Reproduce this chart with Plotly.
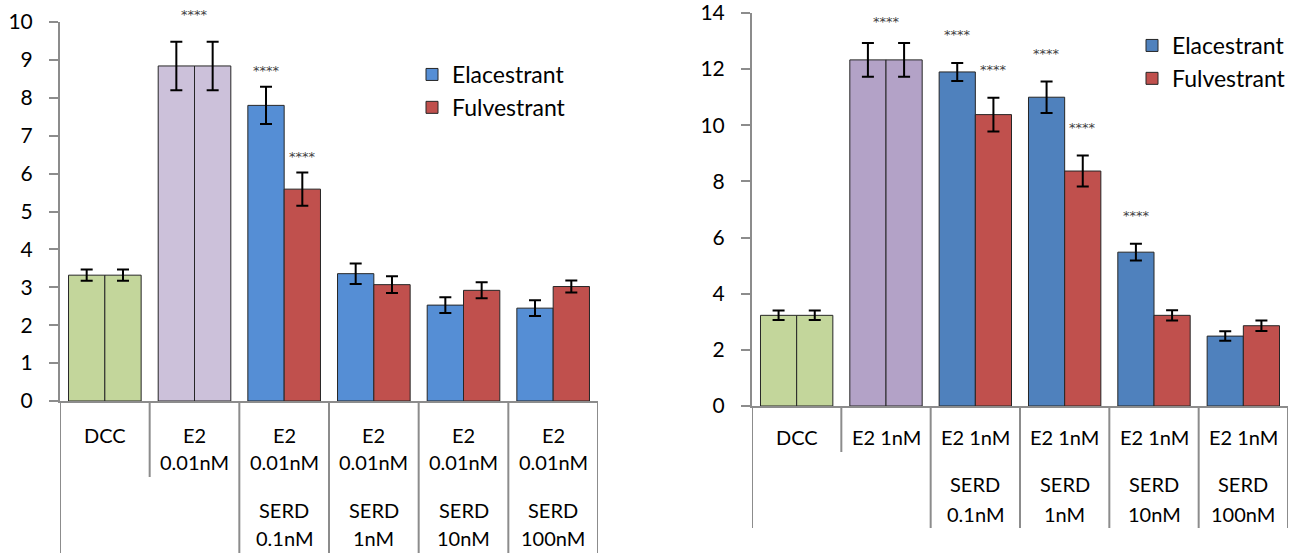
import plotly.graph_objects as go

W, H = 1309, 553
FONT = "Lato"

series_names = ["Elacestrant", "Fulvestrant"]

# ---- left panel (E2 0.01nM) ----
left_control_values = [3.32, 8.84]
left_control_errors = [0.15, 0.64]
left_ela_values = [7.80, 3.36, 2.53, 2.45]
left_ela_errors = [0.49, 0.27, 0.21, 0.21]
left_ful_values = [5.59, 3.07, 2.92, 3.02]
left_ful_errors = [0.44, 0.22, 0.21, 0.16]
left_label_rows = [
    ["DCC", "E2", "E2", "E2", "E2", "E2"],
    ["", "0.01nM", "0.01nM", "0.01nM", "0.01nM", "0.01nM"],
    ["", "", "SERD", "SERD", "SERD", "SERD"],
    ["", "", "0.1nM", "1nM", "10nM", "100nM"],
]
left_stars = [(1, "both"), (2, "E"), (2, "F")]
left_yticks = list(range(0, 11, 1))

# ---- right panel (E2 1nM) ----
right_control_values = [3.23, 12.33]
right_control_errors = [0.17, 0.60]
right_ela_values = [11.90, 11.00, 5.48, 2.49]
right_ela_errors = [0.32, 0.56, 0.30, 0.17]
right_ful_values = [10.38, 8.37, 3.23, 2.86]
right_ful_errors = [0.60, 0.55, 0.18, 0.19]
right_label_rows = [
    ["DCC", "E2 1nM", "E2 1nM", "E2 1nM", "E2 1nM", "E2 1nM"],
    ["", "", "SERD", "SERD", "SERD", "SERD"],
    ["", "", "0.1nM", "1nM", "10nM", "100nM"],
]
right_stars = [(1, "both"), (2, "E"), (2, "F"), (3, "E"), (3, "F"), (4, "E")]
right_yticks = list(range(0, 15, 2))

# styles
GREEN, LAV_L, LAV_R = "#C3D69B", "#CCC1DA", "#B3A2C7"
BLUE_L, BLUE_R, RED = "#558ED5", "#4F81BD", "#C0504D"
AXIS_C = "#8C8C8C"

fig = go.Figure()


def err(a):
    return dict(type="data", array=a, visible=True, color="black", thickness=2, width=6)


def add_panel(xa, ya, legend, cvals, cerrs, evals, eerrs, fvals, ferrs, lav, blue):
    cx = list(range(len(cvals)))
    sx = list(range(len(cvals), len(cvals) + len(evals)))
    line = dict(color="#262626", width=1)
    for og in ["E", "F"]:
        fig.add_trace(go.Bar(x=cx, y=cvals, error_y=err(cerrs), offsetgroup=og,
                             marker=dict(color=[GREEN, lav], line=line),
                             showlegend=False, xaxis=xa, yaxis=ya, hoverinfo="y"))
    fig.add_trace(go.Bar(x=sx, y=evals, error_y=err(eerrs), offsetgroup="E", name=series_names[0],
                         marker=dict(color=blue, line=line), legend=legend, xaxis=xa, yaxis=ya))
    fig.add_trace(go.Bar(x=sx, y=fvals, error_y=err(ferrs), offsetgroup="F", name=series_names[1],
                         marker=dict(color=RED, line=line), legend=legend, xaxis=xa, yaxis=ya))


add_panel("x", "y", "legend", left_control_values, left_control_errors, left_ela_values,
          left_ela_errors, left_ful_values, left_ful_errors, LAV_L, BLUE_L)
add_panel("x2", "y2", "legend2", right_control_values, right_control_errors, right_ela_values,
          right_ela_errors, right_ful_values, right_ful_errors, LAV_R, BLUE_R)

annotations = []
shapes = []


def panel_decor(xref, yref, label_rows, row_px, axis_px, sep_bottom_px, first_sep_px,
                stars, star_gap_group, star_gap, cvals, cerrs, evals, eerrs, fvals, ferrs):
    n = len(label_rows[0])
    for r, row in enumerate(label_rows):
        for i, t in enumerate(row):
            if t:
                annotations.append(dict(x=i, y=1 - row_px[r] / H, xref=xref, yref="paper",
                                        text=t, showarrow=False, yanchor="middle",
                                        font=dict(family=FONT, size=20, color="black")))
    for k in range(n + 1):
        b = k - 0.5
        bottom = first_sep_px if k == 1 else sep_bottom_px
        shapes.append(dict(type="line", xref=xref, yref="paper", x0=b, x1=b,
                           y0=1 - axis_px / H, y1=1 - bottom / H,
                           line=dict(color=AXIS_C, width=2)))
    nc = len(cvals)
    for ci, which in stars:
        if which == "both":
            x, top, gap = ci, cvals[ci] + cerrs[ci], star_gap_group
        elif which == "E":
            j = ci - nc
            x, top, gap = ci - 0.2, evals[j] + eerrs[j], star_gap
        else:
            j = ci - nc
            x, top, gap = ci + 0.2, fvals[j] + ferrs[j], star_gap
        annotations.append(dict(x=x, y=top, xref=xref, yref=yref, text="****",
                                showarrow=False, yanchor="middle", yshift=gap,
                                font=dict(family="DejaVu Sans", size=13, color="#404040")))


panel_decor("x", "y", left_label_rows, [435, 462, 510, 538], 401, 553, 477, left_stars, 27, 16,
            left_control_values, left_control_errors, left_ela_values, left_ela_errors,
            left_ful_values, left_ful_errors)
panel_decor("x2", "y2", right_label_rows, [437, 484, 514], 406, 528, 452, right_stars, 22, 28,
            right_control_values, right_control_errors, right_ela_values, right_ela_errors,
            right_ful_values, right_ful_errors)

xcommon = dict(range=[-0.5, 5.5], showline=True, linecolor=AXIS_C, linewidth=2,
               showticklabels=False, ticks="", showgrid=False, zeroline=False, fixedrange=True,
               automargin=False)
ycommon = dict(showline=True, linecolor=AXIS_C, linewidth=2, ticks="outside", ticklen=9,
               tickcolor=AXIS_C, tickwidth=2, showgrid=False, zeroline=False,
               tickfont=dict(family=FONT, size=21, color="black"), ticklabelstandoff=12,
               ticklabeloverflow="allow", automargin=False)

legend_common = dict(font=dict(family=FONT, size=23, color="black"), bgcolor="rgba(0,0,0,0)",
                     xanchor="left", yanchor="top", tracegroupgap=0, itemwidth=30)

fig.update_layout(
    width=W, height=H,
    margin=dict(l=0, r=0, t=0, b=0, pad=0, autoexpand=False),
    paper_bgcolor="white", plot_bgcolor="white",
    barmode="group", bargap=0.19, bargroupgap=0,
    xaxis=dict(domain=[60 / W, 598 / W], anchor="y", **xcommon),
    yaxis=dict(domain=[1 - 401 / H, 1 - 22 / H], anchor="x", range=[0, 10],
               tickvals=left_yticks, **ycommon),
    xaxis2=dict(domain=[752 / W, 1288 / W], anchor="y2", **xcommon),
    yaxis2=dict(domain=[1 - 406 / H, 1 - 13 / H], anchor="x2", range=[0, 14],
                tickvals=right_yticks, **ycommon),
    legend=dict(x=412 / W, y=1 - 53 / H, **legend_common),
    legend2=dict(x=1132 / W, y=1 - 24 / H, **legend_common),
    annotations=annotations,
    shapes=shapes,
    showlegend=True,
)

fig.write_html("out.html", config={"displayModeBar": False},
               post_script="document.body.style.margin='0';document.body.style.overflow='hidden';")
